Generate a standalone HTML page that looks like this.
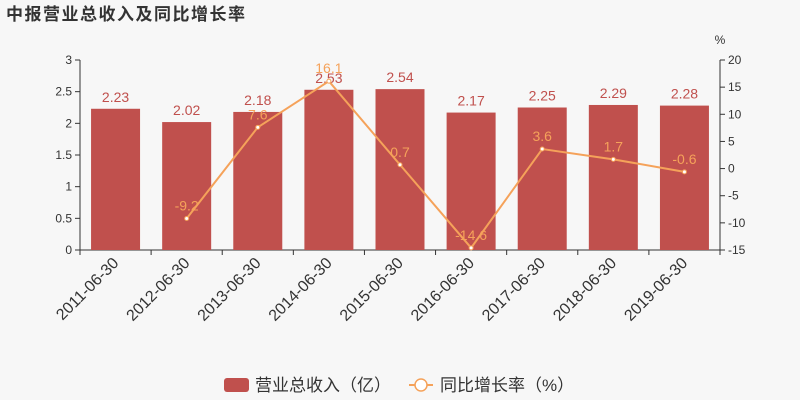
<!DOCTYPE html>
<html><head><meta charset="utf-8"><style>
body{margin:0;background:#f7f7f7;}
svg{display:block;font-family:"Liberation Sans","Noto Sans CJK SC",sans-serif;}
</style></head><body>
<svg id="chart" width="800" height="400" viewBox="0 0 800 400">
<rect width="800" height="400" fill="#f7f7f7"/>
<text x="6" y="20" font-size="17" font-weight="bold" fill="#333" letter-spacing="1.5">中报营业总收入及同比增长率</text>
<text x="720" y="44" font-size="12" fill="#333" text-anchor="middle">%</text>
<g id="plot"></g>
<g>
<rect x="224" y="378" width="25" height="14" rx="3" fill="#c0504d"/>
<text x="255" y="391" font-size="17" fill="#333">营业总收入（亿）</text>
<line x1="409" y1="385" x2="433" y2="385" stroke="#f5a25a" stroke-width="2"/>
<circle cx="421" cy="385" r="6" fill="#fff" stroke="#f5a25a" stroke-width="1.5"/>
<text x="440" y="391" font-size="17" fill="#333">同比增长率（%）</text>
</g>
</svg>
<script>
const categories=["2011-06-30","2012-06-30","2013-06-30","2014-06-30","2015-06-30","2016-06-30","2017-06-30","2018-06-30","2019-06-30"];
const revenue=[2.23,2.02,2.18,2.53,2.54,2.17,2.25,2.29,2.28];
const growth=[null,-9.2,7.6,16.1,0.7,-14.6,3.6,1.7,-0.6];
const leftTicks=[0,0.5,1,1.5,2,2.5,3];
const rightTicks=[-15,-10,-5,0,5,10,15,20];

const X0=80,X1=720,Y0=250,Y1=60;
const NS="http://www.w3.org/2000/svg";
const plot=document.getElementById('plot');
const band=(X1-X0)/categories.length;
const xc=i=>X0+band*(i+0.5);
const yL=v=>Y0-(v-0)/(3-0)*(Y0-Y1);
const yR=v=>Y0-(v+15)/(20+15)*(Y0-Y1);
function mk(tag,attrs,txt){const e=document.createElementNS(NS,tag);for(const k in attrs)e.setAttribute(k,attrs[k]);if(txt!==undefined)e.textContent=txt;plot.appendChild(e);return e;}

// axes
let e=mk('line',{x1:X0,y1:Y1,x2:X0,y2:Y0,stroke:'#333'});


e=mk('line',{x1:X1,y1:Y1,x2:X1,y2:Y0,stroke:'#333'});


e=mk('line',{x1:X0,y1:Y0,x2:X1,y2:Y0,stroke:'#333'});


leftTicks.forEach(t=>{
  const y=yL(t);
  let l=mk('line',{x1:X0-5,y1:y,x2:X0,y2:y,stroke:'#333'});
  
  
  let tx=mk('text',{x:X0-8,y:y+4,'font-size':12,fill:'#333','text-anchor':'end'},String(t));
  
  
});
rightTicks.forEach(t=>{
  const y=yR(t);
  let l=mk('line',{x1:X1,y1:y,x2:X1+5,y2:y,stroke:'#333'});
  
  
  let tx=mk('text',{x:X1+8,y:y+4,'font-size':12,fill:'#333'},String(t));
  
  
});
for(let i=0;i<=categories.length;i++){
  let l=mk('line',{x1:X0+band*i,y1:Y0,x2:X0+band*i,y2:Y0+5,stroke:'#333'});
  
  
}
// bars
const bw=49;
revenue.forEach((v,i)=>{
  const y=yL(v);
  let r=mk('rect',{x:xc(i)-bw/2,y:y,width:bw,height:Y0-y,fill:'#c0504d'});
  
  
  let t=mk('text',{x:xc(i),y:y-7,'font-size':14,fill:'#c0504d','text-anchor':'middle'},v.toFixed(2));
  
  
  let c=mk('text',{x:xc(i)+4,y:Y0+14,'font-size':16,fill:'#333','text-anchor':'end',transform:`rotate(-45 ${xc(i)+4} ${Y0+14})`},categories[i]);
  
  
});
// line
let pts=[];growth.forEach((g,i)=>{if(g!==null)pts.push(xc(i)+','+yR(g));});
let pl=mk('polyline',{points:pts.join(' '),fill:'none',stroke:'#f5a25a','stroke-width':2});


growth.forEach((g,i)=>{
  if(g===null)return;
  let c=mk('circle',{cx:xc(i),cy:yR(g),r:2,fill:'#fff',stroke:'#f5a25a'});
  
  
  let t=mk('text',{x:xc(i),y:yR(g)-8,'font-size':14,fill:'#f5a25a','text-anchor':'middle'},String(g));
  
  
});
</script>
</body></html>
